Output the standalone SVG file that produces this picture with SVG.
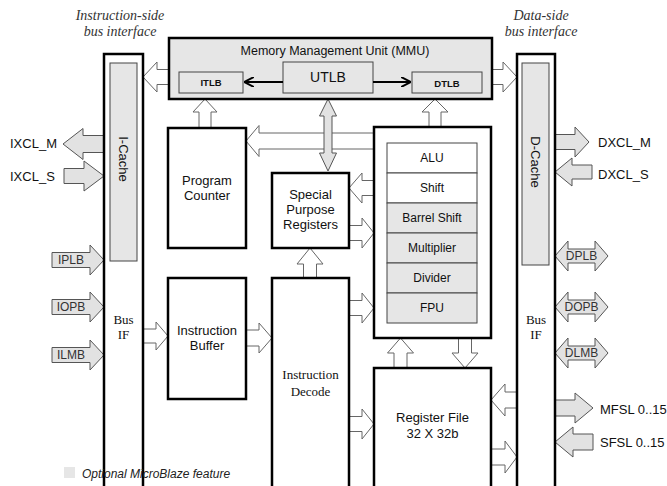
<svg xmlns="http://www.w3.org/2000/svg" width="667" height="486" viewBox="0 0 667 486">
<defs>
<marker id="ah" viewBox="0 0 10 10" refX="9" refY="5" markerWidth="5" markerHeight="5" orient="auto" markerUnits="strokeWidth">
<path d="M0,0 L10,5 L0,10" fill="none" stroke="#000" stroke-width="2"/>
</marker>
<style>
.box{fill:#fff;stroke:#000;stroke-width:2.5}
.gbox{fill:#e6e6e6;stroke:#000;stroke-width:2.5}
.inner{fill:#e6e6e6;stroke:#444;stroke-width:1}
.innerw{fill:#fff;stroke:#444;stroke-width:1}
.ha{fill:#fff;stroke:#666;stroke-width:1}
.ga{fill:#e2e2e2;stroke:#555;stroke-width:1}
.t{font-family:"Liberation Sans",Arial,sans-serif;fill:#111;text-anchor:middle}
.s{font-family:"Liberation Serif","Times New Roman",serif;fill:#111;text-anchor:middle}
.hdr{font-family:"Liberation Serif","Times New Roman",serif;font-style:italic;font-size:14px;fill:#333;text-anchor:middle}
.lbl{font-family:"Liberation Sans",Arial,sans-serif;font-size:13px;fill:#111}
.in{font-family:"Liberation Sans",Arial,sans-serif;font-size:12px;fill:#333;text-anchor:middle}
</style>
</defs>
<rect width="667" height="486" fill="#fff"/>

<g id="connectors">
<path class="ha" d="M169,69.5 L157,69.5 L157,62 L143,77 L157,92 L157,84.5 L169,84.5 Z"/>
<path class="ha" d="M492,69.5 L503,69.5 L503,62 L517,77 L503,92 L503,84.5 L492,84.5 Z"/>
<path class="ha" d="M199,128 L199,112 L193,112 L205,99 L217,112 L211,112 L211,128 Z"/>
<path class="ha" d="M429,127 L429,112 L422,112 L435,99 L448,112 L441,112 L441,127 Z"/>
<path class="ha" d="M374,133 L259,133 L259,125.5 L246,141 L259,156.5 L259,149 L374,149 Z"/>
<path class="ga" d="M324,116 L319.5,116 L328,99 L336.5,116 L332,116 L332,153 L336.5,153 L328,171 L319.5,153 L324,153 Z"/>
<path class="ha" d="M374,180.5 L362,180.5 L362,173 L349,188 L362,203 L362,195.5 L374,195.5 Z"/>
<path class="ha" d="M349,225.5 L362,225.5 L362,218 L374,233 L362,248 L362,240.5 L349,240.5 Z"/>
<path class="ha" d="M349,300.5 L362,300.5 L362,293 L374,308 L362,323 L362,315.5 L349,315.5 Z"/>
<path class="ha" d="M349,416.5 L362,416.5 L362,409 L374,424 L362,439 L362,431.5 L349,431.5 Z"/>
<path class="ha" d="M303.5,278 L303.5,264 L297,264 L310,248 L323,264 L316.5,264 L316.5,278 Z"/>
<path class="ha" d="M143,329 L156,329 L156,322 L168,336 L156,350 L156,343 L143,343 Z"/>
<path class="ha" d="M246,330 L259,330 L259,323 L272,338 L259,353 L259,346 L246,346 Z"/>
<path class="ha" d="M394,368 L394,353 L387.5,353 L400.5,338 L413.5,353 L407,353 L407,368 Z"/>
<path class="ha" d="M458.5,338 L458.5,353 L452,353 L465,368 L478,353 L471.5,353 L471.5,338 Z"/>
<path class="ha" d="M517,392 L505,392 L505,384 L491,400 L505,416 L505,408 L517,408 Z"/>
<path class="ha" d="M491,449 L505,449 L505,441 L517,457 L505,473 L505,465 L491,465 Z"/>

<path class="ga" d="M104,135.5 L83,135.5 L83,128.5 L63,144 L83,159.5 L83,152.5 L104,152.5 Z"/>
<path class="ga" d="M64,168.5 L84,168.5 L84,161 L104,176 L84,191 L84,183.5 L64,183.5 Z"/>
<path class="ga" d="M52,252.5 L90,252.5 L90,245 L104,260 L90,275 L90,267.5 L52,267.5 Z"/>
<path class="ga" d="M52,299.5 L90,299.5 L90,292 L104,307 L90,322 L90,314.5 L52,314.5 Z"/>
<path class="ga" d="M52,347.5 L90,347.5 L90,340 L104,355 L90,370 L90,362.5 L52,362.5 Z"/>
<path class="ga" d="M555,134.5 L575,134.5 L575,127 L589,142 L575,157 L575,149.5 L555,149.5 Z"/>
<path class="ga" d="M592,165 L572,165 L572,158 L555,172 L572,186 L572,179 L592,179 Z"/>
<path class="ga" d="M568,249 L568,241 L555,256 L568,271 L568,263 L595,263 L595,271 L608,256 L595,241 L595,249 Z"/>
<path class="ga" d="M568,300 L568,292 L555,307 L568,322 L568,314 L595,314 L595,322 L608,307 L595,292 L595,300 Z"/>
<path class="ga" d="M568,346 L568,338 L555,353 L568,368 L568,360 L595,360 L595,368 L608,353 L595,338 L595,346 Z"/>
<path class="ga" d="M555,400 L575,400 L575,393 L593,408 L575,423 L575,416 L555,416 Z"/>
<path class="ga" d="M593,434 L573,434 L573,427 L555,442 L573,457 L573,450 L593,450 Z"/>

<text class="in" x="71" y="264">IPLB</text>
<text class="in" x="71" y="311">IOPB</text>
<text class="in" x="71" y="359">ILMB</text>
<text class="in" x="581.5" y="260">DPLB</text>
<text class="in" x="581.5" y="311">DOPB</text>
<text class="in" x="581.5" y="357">DLMB</text>
</g>

<g id="mmu">
<rect class="gbox" x="169" y="38" width="323" height="61"/>
<text class="t" x="335" y="55" font-size="12.5">Memory Management Unit (MMU)</text>
</g>
<g id="itlb">
<rect class="inner" x="179" y="72" width="64" height="21"/>
<text class="t" x="211" y="86" font-size="9.5" font-weight="bold" fill="#222">ITLB</text>
</g>
<g id="utlb">
<rect class="inner" x="283" y="62" width="90" height="31"/>
<text class="t" x="328" y="82" font-size="14">UTLB</text>
<line x1="283" y1="82" x2="245" y2="82" stroke="#000" stroke-width="2" marker-end="url(#ah)"/>
<line x1="373" y1="82" x2="410" y2="82" stroke="#000" stroke-width="2" marker-end="url(#ah)"/>
</g>
<g id="dtlb">
<rect class="inner" x="412" y="72" width="70" height="21"/>
<text class="t" x="447" y="87" font-size="9.5" font-weight="bold" fill="#222">DTLB</text>
</g>

<g id="ibus">
<rect class="box" x="104" y="54" width="39" height="440"/>
<text class="s" x="123.5" y="324" font-size="13">Bus</text>
<text class="s" x="123.5" y="339" font-size="13">IF</text>
</g>
<g id="icache">
<rect class="inner" x="110" y="63" width="27" height="198"/>
<text class="t" font-size="13" fill="#333" transform="translate(119,159) rotate(90)">I-Cache</text>
</g>
<g id="dbus">
<rect class="box" x="517" y="54" width="38" height="440"/>
<text class="s" x="536" y="324" font-size="13">Bus</text>
<text class="s" x="536" y="339" font-size="13">IF</text>
</g>
<g id="dcache">
<rect class="inner" x="522" y="63" width="27" height="202"/>
<text class="t" font-size="13" fill="#333" transform="translate(531,162) rotate(90)">D-Cache</text>
</g>

<g id="pc">
<rect class="box" x="168" y="128" width="78" height="120"/>
<text class="t" x="207" y="185" font-size="13">Program</text>
<text class="t" x="207" y="200" font-size="13">Counter</text>
</g>
<g id="spr">
<rect class="box" x="272" y="173" width="77" height="75"/>
<text class="t" x="310.5" y="199" font-size="13">Special</text>
<text class="t" x="310.5" y="214" font-size="13">Purpose</text>
<text class="t" x="310.5" y="229" font-size="13">Registers</text>
</g>
<g id="ib">
<rect class="box" x="168" y="278" width="78" height="121"/>
<text class="t" x="207" y="335" font-size="13">Instruction</text>
<text class="t" x="207" y="350" font-size="13">Buffer</text>
</g>
<g id="id">
<rect class="box" x="272" y="278" width="77" height="220"/>
<text class="s" x="310.5" y="379" font-size="13">Instruction</text>
<text class="s" x="310.5" y="396" font-size="13">Decode</text>
</g>
<g id="exec">
<rect class="box" x="374" y="127" width="117" height="211"/>
<rect class="innerw" x="387" y="143" width="90" height="30"/>
<rect class="innerw" x="387" y="173" width="90" height="30"/>
<rect class="inner" x="387" y="203" width="90" height="30"/>
<rect class="inner" x="387" y="233" width="90" height="30"/>
<rect class="inner" x="387" y="263" width="90" height="30"/>
<rect class="inner" x="387" y="293" width="90" height="30"/>
<text class="t" x="432" y="162" font-size="12">ALU</text>
<text class="t" x="432" y="192" font-size="12">Shift</text>
<text class="t" x="432" y="222" font-size="12">Barrel Shift</text>
<text class="t" x="432" y="252" font-size="12">Multiplier</text>
<text class="t" x="432" y="282" font-size="12">Divider</text>
<text class="t" x="432" y="312" font-size="12">FPU</text>
</g>
<g id="rf">
<rect class="box" x="374" y="368" width="117" height="130"/>
<text class="t" x="432.5" y="422" font-size="13">Register File</text>
<text class="t" x="432.5" y="438" font-size="13">32 X 32b</text>
</g>

<g id="labels">
<text class="hdr" x="120" y="20">Instruction-side</text>
<text class="hdr" x="120" y="36">bus interface</text>
<text class="hdr" x="541" y="20">Data-side</text>
<text class="hdr" x="541" y="36">bus interface</text>
<text class="lbl" x="10" y="148">IXCL_M</text>
<text class="lbl" x="10" y="181">IXCL_S</text>
<text class="lbl" x="598" y="147">DXCL_M</text>
<text class="lbl" x="598" y="179">DXCL_S</text>
<text class="lbl" x="600" y="414">MFSL 0..15</text>
<text class="lbl" x="600" y="447">SFSL 0..15</text>
</g>
<g id="legend">
<rect x="64" y="467" width="11" height="11" fill="#e6e6e6"/>
<text x="82" y="478" font-family="'Liberation Sans',Arial,sans-serif" font-size="12" font-style="italic" fill="#222">Optional MicroBlaze feature</text>
</g>
</svg>
